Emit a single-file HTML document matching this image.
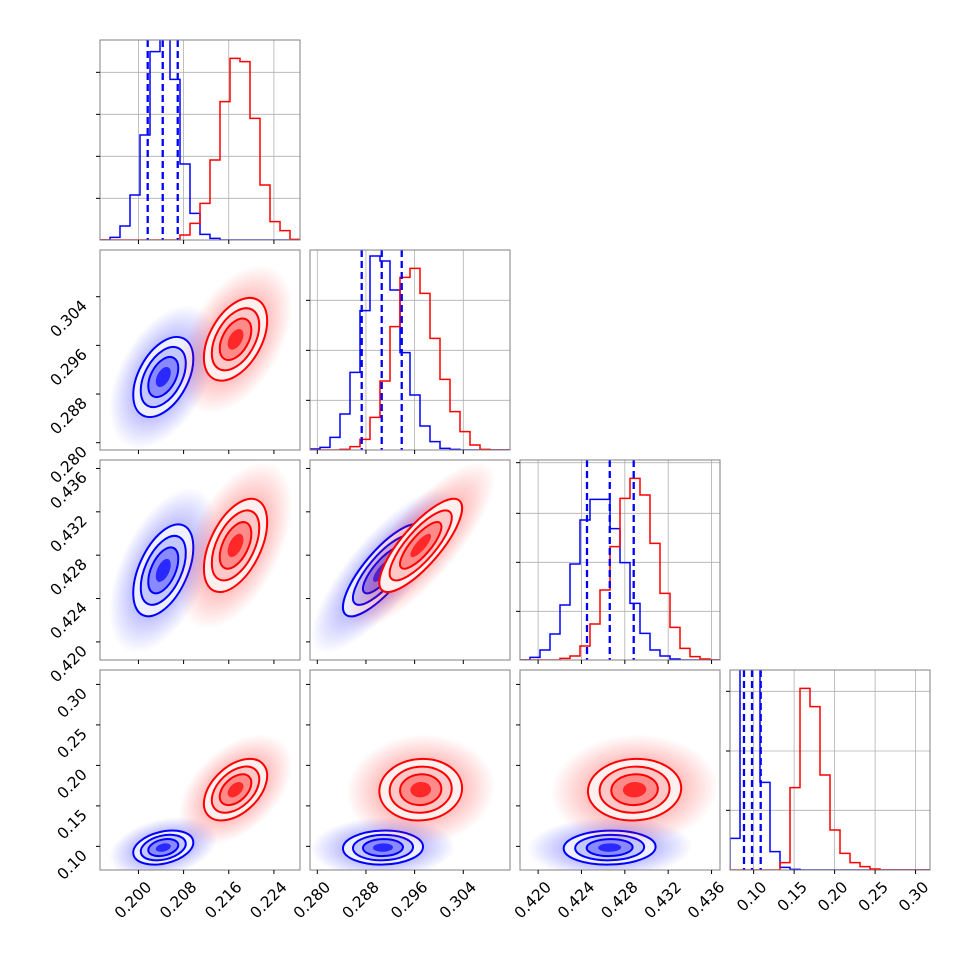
<!DOCTYPE html>
<html><head><meta charset="utf-8"><style>
html,body{margin:0;padding:0;background:#fff;}
svg{display:block;font-family:"DejaVu Sans","Liberation Sans",sans-serif;}
</style></head><body>
<svg id="c" width="970" height="970" viewBox="0 0 970 970" xmlns="http://www.w3.org/2000/svg">
<defs id="defs"></defs>
</svg>
<script>
// ---- data ----
const paramRanges = [[0.19319,0.22862],[0.2788,0.31168],[0.41833,0.43678],[0.0708,0.3178]];
const xTicks = [[0.200,0.208,0.216,0.224],[0.280,0.288,0.296,0.304],[0.420,0.424,0.428,0.432,0.436],[0.10,0.15,0.20,0.25,0.30]];
const tickDecimals = [3,3,3,2];
const histBlue = [
 [0,8,42,135,315,565,700,482,228,80,17,5,0,0,0,0,0,0,0,0],
 [3,8,38,108,233,418,582,567,480,292,165,72,25,5,2,0,0,0,0,0],
 [0,8,30,78,165,288,420,482,482,394,292,170,80,30,12,3,0,0,0,0],
 [95,700,700,263,55,8,2,0,0,0,0,0,0,0,0,0,0,0,0,0]
];
const histRed = [
 [0,0,0,0,0,0,0,0,15,50,110,240,415,545,535,365,165,55,28,2],
 [0,0,0,2,10,32,98,207,370,518,545,470,335,212,115,55,15,2,0,0],
 [0,0,0,0,5,12,42,108,210,340,485,545,495,350,200,98,35,10,3,0],
 [0,0,0,0,0,22,247,545,490,285,120,50,22,10,3,0,0,0,0,0]
];
const histYTicks = [[125,251,377,503],[149,299,449],[146,293,440,592],[179,357,536]];
const histYMax = 600;
const quantilesBlue = [[0.20164,0.20430,0.20696],[0.2873,0.29059,0.29388],[0.42451,0.42661,0.42882],[0.0881,0.0980,0.1087]];
const meanBlue = [0.2044,0.2908,0.4266,0.0985];
const meanRed  = [0.2172,0.2970,0.4289,0.1700];
const sdBlue = [0.00266,0.00329,0.00212,0.0105];
const sdRed  = [0.00280,0.00340,0.00215,0.0190];
const corrBlue = [[1,0.45,0.5,0.3],[0.45,1,0.8,0.05],[0.5,0.8,1,0.05],[0.3,0.05,0.05,1]];
const corrRed  = [[1,0.45,0.5,0.45],[0.45,1,0.8,0.05],[0.5,0.8,1,0.05],[0.45,0.05,0.05,1]];

// ---- layout ----
const colX = [100,310,520,730], rowY = [40,250,460,670], S = 200;
const NS = "http://www.w3.org/2000/svg";
const svg = document.getElementById('c');
const defs = document.getElementById('defs');
function mk(tag, attrs, parent){const e=document.createElementNS(NS,tag);for(const k in attrs)e.setAttribute(k,attrs[k]);(parent||svg).appendChild(e);return e;}
function xs(p,v){const r=paramRanges[p];return colX[p]+(v-r[0])/(r[1]-r[0])*S;}
function ys(p,v){const r=paramRanges[p];return rowY[p]+S-(v-r[0])/(r[1]-r[0])*S;}

const cols = {blue:{c:'#0000ff',f:['#eef0ff','#c4c8ff','#8a8aff','#2828ff']},red:{c:'#ff0000',f:['#fff0f0','#ffc8c8','#ff8a8a','#ff2828']}};
['blue','red'].forEach(n=>{
  const g=mk('radialGradient',{id:'g-'+n,cx:'50%',cy:'50%',r:'50%'},defs);
  mk('stop',{offset:'0','stop-color':cols[n].c,'stop-opacity':'0.5'},g);
  mk('stop',{offset:'0.6','stop-color':cols[n].c,'stop-opacity':'0.22'},g);
  mk('stop',{offset:'1','stop-color':cols[n].c,'stop-opacity':'0'},g);
});

for(let r=0;r<4;r++){
  for(let c=0;c<=r;c++){
    const x0=colX[c], y0=rowY[r];
    const cp=mk('clipPath',{id:'cp'+r+c},defs);
    mk('rect',{x:x0,y:y0,width:S,height:S},cp);
    const panel=mk('g',{});
    
    
    const inner=mk('g',{'clip-path':'url(#cp'+r+c+')'},panel);
    if(r===c){
      xTicks[c].forEach(t=>{const x=xs(c,t);mk('line',{x1:x,x2:x,y1:y0,y2:y0+S,stroke:'#b0b0b0','stroke-width':0.8},inner);});
      histYTicks[r].forEach(t=>{const y=y0+S-t/histYMax*S;mk('line',{x1:x0,x2:x0+S,y1:y,y2:y,stroke:'#b0b0b0','stroke-width':0.8},inner);});
      [['blue',histBlue],['red',histRed]].forEach(([n,h])=>{
        const vals=h[c]; const bw=S/vals.length; let d='M'+x0+','+(y0+S);
        vals.forEach((v,i)=>{const y=y0+S-v/histYMax*S;d+=' L'+(x0+i*bw)+','+y+' L'+(x0+(i+1)*bw)+','+y;});
        d+=' L'+(x0+S)+','+(y0+S);
        const p=mk('path',{d:d,fill:'none',stroke:cols[n].c,'stroke-width':1.5},inner);
        
        
      });
      quantilesBlue[c].forEach(q=>{const x=xs(c,q);
        const l=mk('line',{x1:x,x2:x,y1:y0,y2:y0+S,stroke:'#0000ff','stroke-width':2.3,'stroke-dasharray':'7,4'},inner);
        
        
      });
    } else {
      [['blue',meanBlue,sdBlue,corrBlue],['red',meanRed,sdRed,corrRed]].forEach(([n,m,sd,cr])=>{
        const cx=xs(c,m[c]), cy=ys(r,m[r]);
        const sx=sd[c]*S/(paramRanges[c][1]-paramRanges[c][0]);
        const sy=sd[r]*S/(paramRanges[r][1]-paramRanges[r][0]);
        const a=sx*sx, cc=sy*sy, b=-cr[c][r]*sx*sy;
        const mid=(a+cc)/2, dd=Math.sqrt(((a-cc)/2)**2+b*b);
        const l1=mid+dd, l2=Math.max(mid-dd,1e-6);
        const ang=0.5*Math.atan2(2*b,a-cc)*180/Math.PI;
        const g=mk('g',{transform:'translate('+cx+','+cy+') rotate('+ang+')'},inner);
        
        
        mk('ellipse',{cx:0,cy:0,rx:3.6*Math.sqrt(l1),ry:3.6*Math.sqrt(l2),fill:'url(#g-'+n+')'},g);
        [2,1.5,1,0.5].forEach((k,i)=>{
          mk('ellipse',{cx:0,cy:0,rx:k*Math.sqrt(l1),ry:k*Math.sqrt(l2),fill:cols[n].f[i]},g);
        });
        [2,1.5,1].forEach(k=>{
          mk('ellipse',{cx:0,cy:0,rx:k*Math.sqrt(l1),ry:k*Math.sqrt(l2),fill:'none',stroke:cols[n].c,'stroke-width':2},g);
        });
      });
    }
    mk('rect',{x:x0,y:y0,width:S,height:S,fill:'none',stroke:'#808080','stroke-width':1},panel);
    xTicks[c].forEach(t=>{const x=xs(c,t);mk('line',{x1:x,x2:x,y1:y0+S,y2:y0+S+4,stroke:'#000','stroke-width':1},panel);
      if(r===3){const px=x+14, py=y0+S+18;
        const tx=mk('text',{x:px,y:py,'font-size':15.5,'text-anchor':'end',transform:'rotate(-45 '+px+' '+py+')'},panel);
        tx.textContent=t.toFixed(tickDecimals[c]);
        
        }
    });
    if(r===c){
      histYTicks[r].forEach(t=>{const y=y0+S-t/histYMax*S;mk('line',{x1:x0-4,x2:x0,y1:y,y2:y,stroke:'#000','stroke-width':1},panel);});
    } else {
      xTicks[r].forEach(t=>{const y=ys(r,t);mk('line',{x1:x0-4,x2:x0,y1:y,y2:y,stroke:'#000','stroke-width':1},panel);
        if(c===0){const px=x0-12, py=y+10;
          const tx=mk('text',{x:px,y:py,'font-size':15.5,'text-anchor':'end',transform:'rotate(-45 '+px+' '+py+')'},panel);
          tx.textContent=t.toFixed(tickDecimals[r]);
          
          }
      });
    }
  }
}
</script>
</body></html>
